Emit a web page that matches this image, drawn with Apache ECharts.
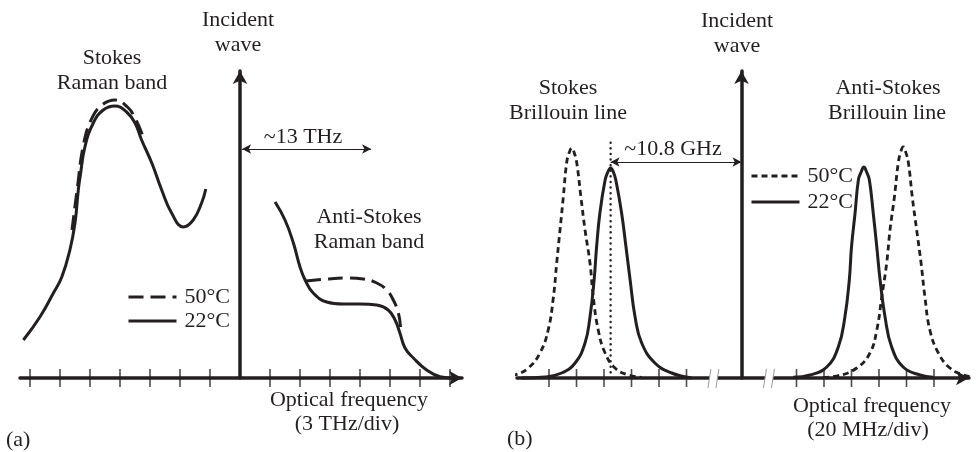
<!DOCTYPE html>
<html><head><meta charset="utf-8">
<script src="https://cdn.jsdelivr.net/npm/echarts@6/dist/echarts.min.js"></script>
<style>html,body{margin:0;padding:0;background:#fff}#c{width:976px;height:452px}</style>
</head><body><div id="c"></div>
<script>
// ---------- data (x in divisions from the incident wave, y = relative intensity) ----------
const ramanTicks = [-7, -6, -5, -4, -3, -2, -1, 1, 2, 3, 4, 5, 6, 7];
const brillouinTicks = [-7, -6, -5, -4, -3, -2, 2, 3, 4, 5, 6, 7];
const brillouinBreaks = [-1.04, 0.98];

const stokesRaman22 = [[-7.22,38],[-6.67,61],[-6.22,85],[-5.94,101],[-5.67,128],[-5.5,155],[-5.39,188],[-5.33,201],[-5.17,231],[-4.89,255],[-4.56,268],[-4.17,272],[-3.78,266],[-3.5,255],[-3.28,238],[-2.94,215],[-2.61,188],[-2.28,165],[-1.89,151],[-1.56,158],[-1.28,175],[-1.14,189]];
const stokesRaman50 = [[-5.6,148],[-5.43,188],[-5.22,233],[-4.95,259],[-4.6,273],[-4.17,278],[-3.75,271],[-3.5,260],[-3.25,243]];
const antiStokesRaman22 = [[1.17,176],[1.5,158],[1.78,135],[2.0,111],[2.17,98],[2.44,85],[2.89,76],[3.44,74],[4.0,74],[4.56,73],[4.94,68],[5.17,58],[5.33,45],[5.5,30],[5.78,20],[6.22,8],[6.67,1.3],[7.11,0]];
const antiStokesRaman50 = [[2.2,97],[2.89,99],[3.56,100],[4.11,99],[4.56,95],[4.89,88],[5.11,78],[5.28,65],[5.35,51]];

const stokesBrillouin22 = [[-8.0,0],[-7.15,1],[-6.54,5],[-6.05,15],[-5.69,35],[-5.51,61],[-5.36,98],[-5.27,131],[-5.15,165],[-4.96,198],[-4.86,206],[-4.76,210],[-4.66,206],[-4.57,198],[-4.36,165],[-4.2,131],[-4.05,98],[-3.87,61],[-3.63,35],[-3.15,15],[-2.54,5],[-1.81,0]];
const stokesBrillouin50 = [[-8.72,0.7],[-8.24,3],[-7.75,10],[-7.33,25],[-7.03,48],[-6.84,81],[-6.72,115],[-6.6,148],[-6.48,181],[-6.36,215],[-6.27,225],[-6.17,230],[-6.08,225],[-5.99,215],[-5.84,181],[-5.69,148],[-5.51,115],[-5.39,81],[-5.21,48],[-4.96,25],[-4.6,10],[-4.12,3],[-3.63,0.7]];
const antiStokesBrillouin22 = [[1.88,0.7],[2.49,3],[3.1,11],[3.52,31],[3.76,61],[3.92,98],[4.0,131],[4.13,165],[4.25,198],[4.35,206],[4.45,211],[4.55,206],[4.65,198],[4.79,165],[4.92,131],[5.04,98],[5.22,61],[5.46,31],[5.88,11],[6.49,3],[6.97,0.7]];
const antiStokesBrillouin50 = [[2.97,0.7],[3.46,2],[4.19,10],[4.67,25],[4.92,48],[5.1,81],[5.28,115],[5.4,148],[5.56,181],[5.7,215],[5.79,226],[5.88,231],[5.97,226],[6.07,215],[6.21,181],[6.37,148],[6.53,115],[6.67,81],[6.85,48],[7.16,25],[7.58,10],[8.07,3],[8.49,0.7]];

const stokesShiftMarker = [[-4.76, 0], [-4.76, 236]];
const ramanShiftArrow = [[0.07, 229], [4.37, 229]];
const brillouinShiftArrow = [[-4.76, 216], [0, 216]];

// ---------- styling ----------
const INK = '#231f20';
const FONT = '22px "Liberation Serif", "Times New Roman", serif';

function curve(name, data, xi, dash, width) {
  return {
    type: 'line', name: name, xAxisIndex: xi, yAxisIndex: xi, data: data,
    smooth: 0.45, symbol: 'none', clip: false, silent: true,
    lineStyle: { color: INK, width: width || 3, type: dash || 'solid', cap: 'butt', join: 'round' },
    itemStyle: { color: INK }, z: 3
  };
}
function ticks(arr, xi) {
  return {
    type: 'scatter', xAxisIndex: xi, yAxisIndex: xi, silent: true,
    data: arr.map(v => [v, 0]), symbol: 'rect', symbolSize: [1.6, 18],
    itemStyle: { color: INK }, z: 2
  };
}
function arrow(pts, xi) {
  return {
    type: 'line', xAxisIndex: xi, yAxisIndex: xi, data: [], silent: true,
    markLine: {
      silent: true, symbol: ['arrow', 'arrow'], symbolSize: [7, 9],
      label: { show: false },
      lineStyle: { color: INK, width: 1.2, type: 'solid' },
      data: [[{ coord: pts[0] }, { coord: pts[1] }]]
    }
  };
}
function axisX(gi, min, max) {
  return {
    type: 'value', gridIndex: gi, min: min, max: max,
    axisLine: { show: true, onZero: true, symbol: ['none', 'arrow'], symbolSize: [11, 13], lineStyle: { color: INK, width: 3.5 } },
    axisTick: { show: false }, axisLabel: { show: false }, splitLine: { show: false }
  };
}
function axisY(gi) {
  return {
    type: 'value', gridIndex: gi, min: 0, max: 307,
    axisLine: { show: true, onZero: true, symbol: ['none', 'arrow'], symbolSize: [11, 13], lineStyle: { color: INK, width: 3.5 } },
    axisTick: { show: false }, axisLabel: { show: false }, splitLine: { show: false }
  };
}
function txt(s, x, y, align) {
  return { type: 'text', x: x, y: y, silent: true,
    style: { text: s, fill: INK, font: FONT, textAlign: align || 'center', verticalAlign: 'middle' } };
}
const legendBase = {
  orient: 'vertical', padding: 0, itemWidth: 48, itemHeight: 14, itemGap: 0,
  selectedMode: false,
  itemStyle: { color: 'rgba(0,0,0,0)', borderColor: 'rgba(0,0,0,0)', borderWidth: 0 },
  lineStyle: { width: 3 },
  textStyle: { color: INK, fontFamily: '"Liberation Serif", serif', fontSize: 22, lineHeight: 24, padding: [0, 0, 0, 3] },
  formatter: n => n.slice(1) + '°C'
};

const option = {
  animation: false,
  backgroundColor: '#fff',
  grid: [
    { left: 20, width: 442, top: 71, height: 307 },
    { left: 517, width: 452, top: 71, height: 307 }
  ],
  xAxis: [axisX(0, -22 / 3, 7.4), axisX(1, -8.164, 8.273)],
  yAxis: [axisY(0), axisY(1)],
  legend: [
    Object.assign({}, legendBase, { left: 127, top: 285, data: ['a50', 'a22'] }),
    Object.assign({}, legendBase, { left: 750, top: 164, itemGap: 2, data: ['b50', 'b22'] })
  ],
  graphic: [
    txt('Incident', 238, 20), txt('wave', 238, 45),
    txt('Stokes', 112, 58), txt('Raman band', 112, 83),
    txt('Anti-Stokes', 369, 217), txt('Raman band', 369, 242),
    txt('~13 THz', 303, 137),
    txt('Optical frequency', 349, 400), txt('(3 THz/div)', 347, 424),
    txt('(a)', 6, 440, 'left'),
    txt('Incident', 737, 21), txt('wave', 737, 46),
    txt('Stokes', 568, 88), txt('Brillouin line', 568, 113),
    txt('Anti-Stokes', 888, 88), txt('Brillouin line', 887, 113),
    txt('~10.8 GHz', 673, 149),
    txt('Optical frequency', 872, 406), txt('(20 MHz/div)', 868, 430),
    txt('(b)', 507, 439, 'left')
  ],
  series: [
    ticks(ramanTicks, 0),
    curve('a50', stokesRaman50, 0, [15, 7], 3),
    curve('a50', antiStokesRaman50, 0, [15, 7], 3),
    curve('a22', stokesRaman22, 0),
    curve('a22', antiStokesRaman22, 0),
    arrow(ramanShiftArrow, 0),

    ticks(brillouinTicks, 1),
    {
      type: 'custom', xAxisIndex: 1, yAxisIndex: 1, silent: true, clip: false, z: 4,
      data: brillouinBreaks.map(v => [v, 0]),
      renderItem: function (params, api) {
        const p = api.coord([api.value(0), api.value(1)]);
        const x = p[0], y = p[1];
        return {
          type: 'group', children: [
            { type: 'polygon', shape: { points: [[x - 5, y + 10], [x - 2, y - 9], [x + 6, y - 9], [x + 3, y + 10]] }, style: { fill: '#fff' } },
            { type: 'line', shape: { x1: x - 5, y1: y + 10, x2: x - 2, y2: y - 9 }, style: { stroke: '#999', lineWidth: 1 } },
            { type: 'line', shape: { x1: x + 3, y1: y + 10, x2: x + 6, y2: y - 9 }, style: { stroke: '#999', lineWidth: 1 } }
          ]
        };
      }
    },
    curve('b50', stokesBrillouin50, 1, [6, 4], 2.8),
    curve('b50', antiStokesBrillouin50, 1, [6, 4], 2.8),
    curve('b22', stokesBrillouin22, 1),
    curve('b22', antiStokesBrillouin22, 1),
    {
      type: 'line', xAxisIndex: 1, yAxisIndex: 1, data: stokesShiftMarker, symbol: 'none', silent: true,
      lineStyle: { color: INK, width: 2.4, type: [0.1, 5.5], cap: 'round' }, z: 3
    },
    arrow(brillouinShiftArrow, 1)
  ]
};
const chart = echarts.init(document.getElementById('c'), null, { renderer: 'canvas' });
chart.setOption(option);
</script>
</body></html>
